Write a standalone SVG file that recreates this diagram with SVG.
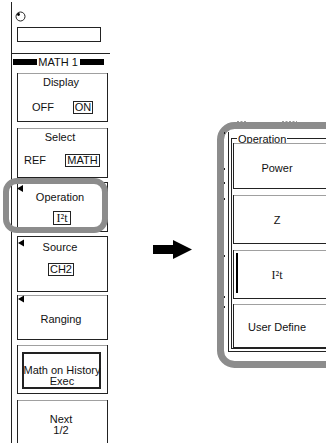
<svg xmlns="http://www.w3.org/2000/svg" width="326" height="443" viewBox="0 0 326 443">
<style>
text{font-family:"Liberation Sans",Arial,sans-serif;font-size:11px;fill:#111}
.c{text-anchor:middle}
.s{font-family:"Liberation Serif","Times New Roman",serif;font-size:12px}
.btn{fill:#fff;stroke:#222;stroke-width:1}
.top{stroke:#a0a0a0;stroke-width:1}
.sel{fill:none;stroke:#222;stroke-width:1}
.hl{fill:none;stroke:#8c8c8c;stroke-width:6}
.tri{fill:#000}
.tick{fill:#222}
</style>
<rect width="326" height="443" fill="#fff"/>
<g id="left-panel">
<line x1="11.5" y1="2" x2="11.5" y2="443" stroke="#222"/>
<circle cx="20.5" cy="16.5" r="4.5" fill="none" stroke="#222"/>
<circle cx="18.5" cy="14.5" r="1.4" fill="#000"/>
<rect x="17.5" y="27.5" width="83" height="14" fill="#fff" stroke="#222"/>
<line x1="11" y1="53.5" x2="110" y2="53.5" stroke="#222"/>
<rect x="13" y="59" width="24" height="6" fill="#000"/>
<rect x="80" y="59" width="24" height="6" fill="#000"/>
<text x="58" y="66" class="c">MATH 1</text>
</g>
<g id="display">
<rect class="btn" x="17.5" y="73.5" width="90" height="48"/>
<line class="top" x1="18" y1="73.5" x2="107" y2="73.5"/>
<text x="61" y="86" class="c">Display</text>
<text x="43" y="111" class="c">OFF</text>
<rect class="sel" x="73.5" y="101.5" width="19" height="12"/>
<text x="83" y="111" class="c">ON</text>
</g>
<g id="select">
<rect class="btn" x="17.5" y="128.5" width="90" height="49"/>
<line class="top" x1="18" y1="128.5" x2="107" y2="128.5"/>
<text x="60" y="141" class="c">Select</text>
<text x="35" y="164" class="c">REF</text>
<rect class="sel" x="65.5" y="154.5" width="34" height="12"/>
<text x="82.5" y="164" class="c">MATH</text>
</g>
<g id="operation">
<rect class="btn" x="17.5" y="182.5" width="90" height="49"/>
<path class="tri" d="M17 188.5 L23 185 L23 192 Z"/>
<text x="60" y="201" class="c">Operation</text>
<rect class="sel" x="53.5" y="211.5" width="17" height="13"/>
<text x="62" y="222" class="c s">I²t</text>
</g>
<g id="source">
<rect class="btn" x="17.5" y="236.5" width="90" height="55"/>
<path class="tri" d="M18 243 L24 239.5 L24 246.5 Z"/>
<text x="60" y="251" class="c">Source</text>
<rect class="sel" x="48.5" y="263.5" width="25" height="12"/>
<text x="61" y="273" class="c">CH2</text>
</g>
<g id="ranging">
<rect class="btn" x="17.5" y="295.5" width="90" height="44"/>
<line class="top" x1="18" y1="295.5" x2="107" y2="295.5"/>
<path class="tri" d="M18 299 L24 295.5 L24 302.5 Z"/>
<text x="61" y="323" class="c">Ranging</text>
</g>
<g id="history">
<rect class="btn" x="17.5" y="345.5" width="90" height="48"/>
<line class="top" x1="18" y1="345.5" x2="107" y2="345.5"/>
<rect x="23" y="353" width="77" height="35" fill="none" stroke="#222" stroke-width="2"/>
<text x="62" y="374" class="c">Math on History</text>
<text x="62" y="385" class="c">Exec</text>
</g>
<g id="next">
<rect class="btn" x="17.5" y="400.5" width="90" height="50"/>
<line class="top" x1="18" y1="400.5" x2="107" y2="400.5"/>
<text x="61" y="423" class="c">Next</text>
<text x="61" y="434" class="c">1/2</text>
</g>
<g id="highlight">
<rect class="hl" x="6" y="181" width="99" height="49" rx="11"/>
</g>
<g id="connectors">
<path d="M153 245 H173 V240 L192 249.5 L173 259 V254 H153 Z" fill="#000"/>
</g>
<g id="operation-menu">
<line x1="237" y1="121.5" x2="247" y2="121.5" stroke="#999" stroke-dasharray="2 1.5"/>
<line x1="282" y1="121.5" x2="297" y2="121.5" stroke="#999" stroke-dasharray="2 1.5"/>
<rect x="220.5" y="125.5" width="120" height="239" rx="14" fill="#fff" stroke="#8c8c8c" stroke-width="7"/>
<rect class="tick" x="224" y="132" width="1" height="2"/>
<rect class="tick" x="224" y="168" width="1" height="2"/>
<rect class="tick" x="224" y="182" width="1" height="2"/>
<rect class="tick" x="224" y="198" width="1" height="2"/>
<rect class="tick" x="224" y="255" width="1" height="2"/>
<rect class="tick" x="224" y="296" width="1" height="2"/>
<rect class="tick" x="224" y="306" width="1" height="2"/>
<line x1="228.5" y1="132" x2="228.5" y2="352" stroke="#222"/>
<line x1="228" y1="351.5" x2="326" y2="351.5" stroke="#222"/>
<line x1="231.5" y1="138" x2="231.5" y2="349" stroke="#222"/>
<line x1="231" y1="348.5" x2="326" y2="348.5" stroke="#222"/>
<line x1="231" y1="138.5" x2="326" y2="138.5" stroke="#222"/>
<rect x="237" y="133" width="50" height="10" fill="#fff"/>
<text x="238" y="143">Operation</text>
<g id="power">
<rect class="btn" x="233.5" y="143.5" width="100" height="45"/>
<line class="top" x1="234" y1="143.5" x2="326" y2="143.5"/>
<text x="277" y="172" class="c">Power</text>
</g>
<g id="z">
<rect class="btn" x="233.5" y="195.5" width="100" height="48"/>
<line class="top" x1="234" y1="195.5" x2="326" y2="195.5"/>
<text x="277" y="224" class="c">Z</text>
</g>
<g id="i2t">
<rect class="btn" x="233.5" y="250.5" width="100" height="48"/>
<line class="top" x1="234" y1="250.5" x2="326" y2="250.5"/>
<line x1="237" y1="253" x2="237" y2="293" stroke="#000" stroke-width="2"/>
<text x="277" y="279" class="c s">I²t</text>
</g>
<g id="user-define">
<rect class="btn" x="233.5" y="304.5" width="100" height="43"/>
<line class="top" x1="234" y1="304.5" x2="326" y2="304.5"/>
<text x="277" y="331" class="c">User Define</text>
</g>
</g>
</svg>
